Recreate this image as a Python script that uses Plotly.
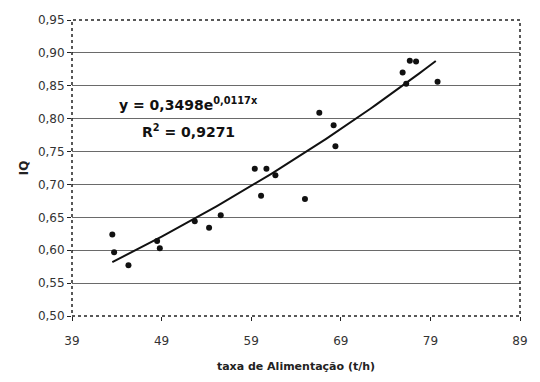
import numpy as np
import plotly.graph_objects as go

# Data
taxa = [43.5, 43.7, 45.3, 48.5, 48.8, 52.7, 54.3, 55.6, 59.4, 60.7, 61.7, 60.1,
        65.0, 66.6, 68.2, 68.4, 75.9, 76.7, 77.4, 76.3, 79.8]
iq = [0.624, 0.597, 0.577, 0.614, 0.603, 0.644, 0.634, 0.653, 0.724, 0.724, 0.714,
      0.683, 0.678, 0.809, 0.790, 0.758, 0.870, 0.888, 0.887, 0.853, 0.856]

# Trend line (exponential fit shown on chart)
coef_a = 0.3498
coef_b = 0.0117
r2 = 0.9271
trend_x = np.linspace(min(taxa), 79.6, 60)
trend_y = coef_a * np.exp(coef_b * trend_x)

x_ticks = [39, 49, 59, 69, 79, 89]
y_ticks = [0.50, 0.55, 0.60, 0.65, 0.70, 0.75, 0.80, 0.85, 0.90, 0.95]

font_fam = "DejaVu Sans, Verdana, sans-serif"

fig = go.Figure()
fig.add_trace(go.Scatter(x=trend_x, y=trend_y, mode="lines",
                         line=dict(color="#111", width=2), hoverinfo="skip"))
fig.add_trace(go.Scatter(x=taxa, y=iq, mode="markers",
                         marker=dict(color="#111", size=6)))

fig.update_layout(
    width=540, height=382,
    margin=dict(l=72, r=12, t=20, b=55),
    paper_bgcolor="white", plot_bgcolor="white",
    showlegend=False,
    separators=",.",
    font=dict(family=font_fam, color="#333", size=12),
    xaxis=dict(range=[39, 89], tickvals=x_ticks, showgrid=False, zeroline=False,
               ticks="outside", ticklen=4, tickcolor="#222", showline=False,
               ticklabelstandoff=10,
               title=dict(text="<b>taxa de Alimentação (t/h)</b>",
                          font=dict(size=11, color="#222"), standoff=14)),
    yaxis=dict(range=[0.50, 0.95], tickvals=y_ticks, tickformat=".2f",
               showgrid=True, gridcolor="#6a6a6a", gridwidth=1, zeroline=False,
               ticks="outside", ticklen=4, tickcolor="#222", showline=False,
               title=dict(text="<b>IQ</b>", font=dict(size=12, color="#222"), standoff=6)),
    shapes=[dict(type="rect", xref="paper", yref="paper", x0=0, x1=1, y0=0, y1=1,
                 line=dict(color="#222", width=1.5, dash="dot"))],
    annotations=[
        dict(x=52.05, y=0.822, xref="x", yref="y", showarrow=False,
             text="<b>y = 0,3498e<sup>0,0117x</sup></b>",
             font=dict(family="DejaVu Sans", size=14, color="#111")),
        dict(x=52.0, y=0.781, xref="x", yref="y", showarrow=False,
             text="<b>R<sup>2</sup> = 0,9271</b>",
             font=dict(family="DejaVu Sans", size=14, color="#111")),
    ],
)

fig.write_html("out.html", config={"displayModeBar": False},
               post_script="document.body.style.margin='0';document.body.style.overflow='hidden';")
